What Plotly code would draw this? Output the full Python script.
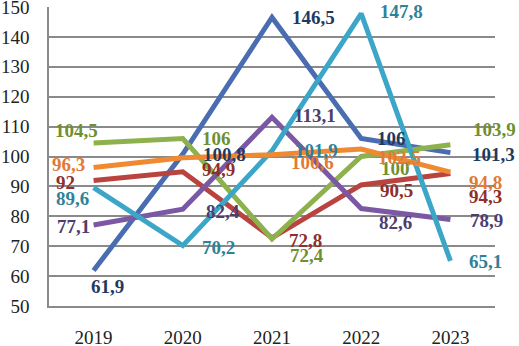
import plotly.graph_objects as go

years = ["2019", "2020", "2021", "2022", "2023"]
y_ticks = [50, 60, 70, 80, 90, 100, 110, 120, 130, 140, 150]

blue = [61.9, 100.8, 146.5, 106, 101.3]
red = [92, 94.9, 72.8, 90.5, 94.3]
green = [104.5, 106, 72.4, 100, 103.9]
purple = [77.1, 82.4, 113.1, 82.6, 78.9]
aqua = [89.6, 70.2, 101.9, 147.8, 65.1]
orange = [96.3, 99.6, 100.6, 102.5, 94.8]

# label offsets in pixels (dx right, dy down); None = no label
off_blue = [(14, 16), (42, 0), (41, 0), (30, 0), (43, 2)]
off_red = [(-28, 2), (36, -2), (33, 3), (35, 6), (35, 23)]
off_green = [(-17, -13), (34, 0), (35, 16), (34, 12), (44, -15)]
off_purple = [(-20, 2), (40, 2), (43, -2), (34, 14), (36, 1)]
off_aqua = [(-21, 11), (36, 2), (44, 0), (40, -2), (35, 1)]
off_orange = [(-25, -3), None, (40, 8), (38, 8), (35, 10)]

series = [
    (blue, "#4A6CB0", "#1F3A60", off_blue),
    (red, "#B8433F", "#8E2F2C", off_red),
    (green, "#8DB14C", "#6F8F32", off_green),
    (purple, "#7A58A4", "#4E3D6E", off_purple),
    (aqua, "#3CA6C8", "#2E8298", off_aqua),
    (orange, "#F08A32", "#E07A36", off_orange),
]

def fmt(v):
    return ("%g" % v).replace(".", ",")

fig = go.Figure()
for vals, lc, tc, offs in series:
    fig.add_trace(go.Scatter(x=years, y=vals, mode="lines",
                             line=dict(color=lc, width=5), showlegend=False,
                             hoverinfo="skip"))
for vals, lc, tc, offs in series:
    for i, (v, o) in enumerate(zip(vals, offs)):
        if o is None:
            continue
        fig.add_annotation(x=i, y=v, xref="x", yref="y",
                           text="<b>" + fmt(v) + "</b>", showarrow=False,
                           xshift=o[0], yshift=-o[1],
                           font=dict(family="Liberation Serif", size=19, color=tc))

fig.update_layout(
    width=519, height=346,
    margin=dict(l=49, r=24, t=7, b=40),
    paper_bgcolor="white", plot_bgcolor="white",
    font=dict(family="Liberation Serif", size=19, color="#222222"),
    xaxis=dict(type="category", range=[-0.5, 4.5], showgrid=False, automargin=False,
               showline=True, linecolor="#8a8a8a", linewidth=1.5,
               ticks="", ticklabelstandoff=13, ticklabeloverflow="allow",
               tickfont=dict(family="Liberation Serif", size=19, color="#222222")),
    yaxis=dict(range=[50, 150], tickvals=y_ticks, showgrid=True, automargin=False,
               gridcolor="#8a8a8a", gridwidth=1.5, zeroline=False,
               showline=True, linecolor="#8a8a8a", linewidth=1.5,
               ticks="", ticklabelstandoff=14, ticklabeloverflow="allow",
               tickfont=dict(family="Liberation Serif", size=19, color="#222222")),
)

fig.write_html("out.html", config={"displayModeBar": False},
               post_script="document.body.style.margin='0';")
